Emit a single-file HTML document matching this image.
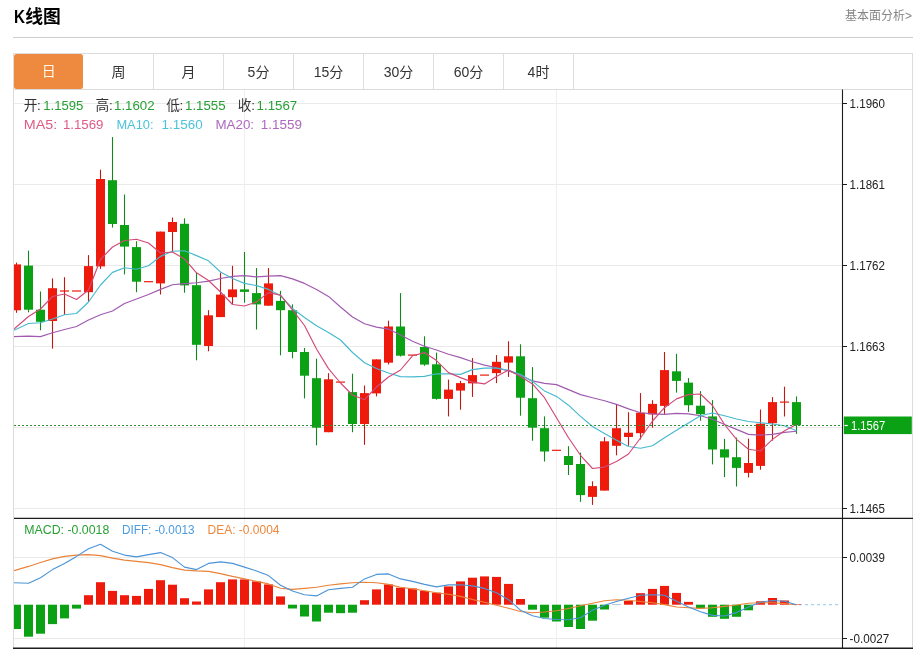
<!DOCTYPE html>
<html lang="zh"><head><meta charset="utf-8"><title>K线图</title>
<style>
html,body{margin:0;padding:0;background:#fff;}
body{width:918px;height:649px;position:relative;overflow:hidden;font-family:"Liberation Sans","Noto Sans CJK SC",sans-serif;color:#333;}
.g{display:inline-block;vertical-align:top;overflow:visible}
#title{position:absolute;left:14.3px;top:6px;overflow:visible;will-change:transform}
#title text{font-family:"Liberation Sans","Noto Sans CJK SC",sans-serif}
#more{will-change:transform;position:absolute;right:6.3px;top:9.1px;height:14px;font-size:12px;line-height:14px;color:#858585;white-space:nowrap;font-family:"Liberation Sans","Noto Sans CJK SC",sans-serif}
#hr{position:absolute;left:13px;top:37px;width:899.6px;height:1px;background:#cdcdcd}
#tabs{will-change:transform;position:absolute;left:13px;top:53px;width:898px;height:35px;border:1px solid #dcdcdc}
.tab{position:absolute;top:0;width:69px;height:35px;border-right:1px solid #dedede;text-align:center;font-size:14px;line-height:36.2px;color:#333;white-space:nowrap;font-family:"Liberation Sans","Noto Sans CJK SC",sans-serif}
.tab span{display:inline-block;vertical-align:top}
.tab.on{background:#ee8a3f;border-radius:2.5px;border-right:0;width:69.2px;left:0.2px!important;top:0.4px;height:34.6px;line-height:34.6px;color:#fff7e8}
#chart{position:absolute;left:0;top:0;will-change:transform}
#chart text{font-family:"Liberation Sans","Noto Sans CJK SC",sans-serif}
</style></head><body>
<svg id="title" width="60" height="24" viewBox="0 0 60 24" role="heading" aria-label="K线图"><text x="0" y="16.7" font-size="18.6" font-weight="bold" fill="#000" textLength="11" lengthAdjust="spacingAndGlyphs">K</text><text x="11.3" y="17.16" font-size="17.8" font-weight="bold" fill="#000">线</text><text x="29.1" y="17.16" font-size="17.8" font-weight="bold" fill="#000">图</text></svg>
<div id="more"><span>基本面分析</span>&gt;</div>
<div id="hr"></div>
<div id="tabs"><div style="left:0px" class="tab on"><span>日</span></div><div style="left:70px" class="tab"><span>周</span></div><div style="left:140px" class="tab"><span>月</span></div><div style="left:210px" class="tab"><span>5</span><span>分</span></div><div style="left:280px" class="tab"><span>15</span><span>分</span></div><div style="left:350px" class="tab"><span>30</span><span>分</span></div><div style="left:420px" class="tab"><span>60</span><span>分</span></div><div style="left:490px" class="tab"><span>4</span><span>时</span></div></div>
<svg id="chart" width="918" height="649" viewBox="0 0 918 649"><line x1="14" x2="842" y1="103.5" y2="103.5" stroke="#eaeaea"/><line x1="14" x2="842" y1="184.5" y2="184.5" stroke="#eaeaea"/><line x1="14" x2="842" y1="265.5" y2="265.5" stroke="#eaeaea"/><line x1="14" x2="842" y1="346.5" y2="346.5" stroke="#eaeaea"/><line x1="14" x2="842" y1="427.5" y2="427.5" stroke="#eaeaea"/><line x1="14" x2="842" y1="508.5" y2="508.5" stroke="#eaeaea"/><line x1="14" x2="842" y1="557.5" y2="557.5" stroke="#eaeaea"/><line x1="14" x2="842" y1="638.5" y2="638.5" stroke="#eaeaea"/><line x1="244.5" x2="244.5" y1="90" y2="648" stroke="#eeeef0"/><line x1="556.5" x2="556.5" y1="90" y2="648" stroke="#eeeef0"/><line x1="13.5" x2="13.5" y1="90" y2="649" stroke="#dcdcdc"/><line x1="912.5" x2="912.5" y1="90" y2="649" stroke="#dcdcdc"/><line x1="799" x2="839" y1="604.7" y2="604.7" stroke="#a9d3ea" stroke-width="1.2" stroke-dasharray="3 3"/><rect x="612" y="604.1" width="9" height="1" fill="#b9c6d2"/><defs><clipPath id="cp"><rect x="14" y="90" width="828" height="558"/></clipPath></defs><g clip-path="url(#cp)"><rect x="15.95" y="262.6" width="1.1" height="50.2" fill="#bd1b12"/><rect x="12" y="264.4" width="9" height="45.9" fill="#ee1b0d"/><rect x="27.95" y="250.6" width="1.1" height="61.7" fill="#14861c"/><rect x="24" y="265.6" width="9" height="44.1" fill="#0ba114"/><rect x="39.95" y="291.5" width="1.1" height="38.8" fill="#14861c"/><rect x="36" y="309.7" width="9" height="12.1" fill="#0ba114"/><rect x="51.95" y="278.4" width="1.1" height="70.2" fill="#bd1b12"/><rect x="48" y="288.2" width="9" height="32.8" fill="#ee1b0d"/><rect x="63.95" y="277.2" width="1.1" height="37.6" fill="#bd1b12"/><rect x="60" y="290.4" width="9" height="1.2" fill="#ee1b0d"/><rect x="72" y="290.4" width="9" height="1.2" fill="#ee1b0d"/><rect x="87.95" y="255.1" width="1.1" height="46.4" fill="#bd1b12"/><rect x="84" y="266.1" width="9" height="26.1" fill="#ee1b0d"/><rect x="99.95" y="169.7" width="1.1" height="99.2" fill="#bd1b12"/><rect x="96" y="179" width="9" height="87.4" fill="#ee1b0d"/><rect x="111.95" y="137.1" width="1.1" height="90.5" fill="#14861c"/><rect x="108" y="180.2" width="9" height="43.8" fill="#0ba114"/><rect x="123.95" y="194.5" width="1.1" height="79.9" fill="#14861c"/><rect x="120" y="225" width="9" height="21.6" fill="#0ba114"/><rect x="135.95" y="241.3" width="1.1" height="50.9" fill="#14861c"/><rect x="132" y="247.1" width="9" height="34.6" fill="#0ba114"/><rect x="144" y="281.1" width="9" height="1.2" fill="#ee1b0d"/><rect x="159.95" y="231.6" width="1.1" height="62.9" fill="#bd1b12"/><rect x="156" y="231.6" width="9" height="51.8" fill="#ee1b0d"/><rect x="171.95" y="217.5" width="1.1" height="33.9" fill="#bd1b12"/><rect x="168" y="222" width="9" height="10" fill="#ee1b0d"/><rect x="183.95" y="218.3" width="1.1" height="74.4" fill="#14861c"/><rect x="180" y="223.8" width="9" height="61.6" fill="#0ba114"/><rect x="195.95" y="272.9" width="1.1" height="87.4" fill="#14861c"/><rect x="192" y="285.2" width="9" height="59.6" fill="#0ba114"/><rect x="207.95" y="310.2" width="1.1" height="41.1" fill="#bd1b12"/><rect x="204" y="315.3" width="9" height="30.7" fill="#ee1b0d"/><rect x="219.95" y="272.6" width="1.1" height="44.5" fill="#bd1b12"/><rect x="216" y="294.6" width="9" height="22.5" fill="#ee1b0d"/><rect x="231.95" y="265.8" width="1.1" height="38.9" fill="#bd1b12"/><rect x="228" y="289.4" width="9" height="7.8" fill="#ee1b0d"/><rect x="243.95" y="252" width="1.1" height="50.7" fill="#14861c"/><rect x="240" y="289.4" width="9" height="2.5" fill="#0ba114"/><rect x="255.95" y="268.1" width="1.1" height="61.4" fill="#14861c"/><rect x="252" y="293.1" width="9" height="11.3" fill="#0ba114"/><rect x="267.95" y="268.1" width="1.1" height="37.6" fill="#bd1b12"/><rect x="264" y="283.4" width="9" height="22.3" fill="#ee1b0d"/><rect x="279.95" y="290.9" width="1.1" height="64.4" fill="#14861c"/><rect x="276" y="300.9" width="9" height="9.3" fill="#0ba114"/><rect x="291.95" y="304.4" width="1.1" height="53.9" fill="#14861c"/><rect x="288" y="310.2" width="9" height="41.8" fill="#0ba114"/><rect x="303.95" y="348" width="1.1" height="50.4" fill="#14861c"/><rect x="300" y="352" width="9" height="23.7" fill="#0ba114"/><rect x="315.95" y="358.7" width="1.1" height="86.6" fill="#14861c"/><rect x="312" y="378.2" width="9" height="49.5" fill="#0ba114"/><rect x="327.95" y="373.2" width="1.1" height="59" fill="#bd1b12"/><rect x="324" y="379.3" width="9" height="52.9" fill="#ee1b0d"/><rect x="336" y="381.5" width="9" height="1.2" fill="#ee1b0d"/><rect x="351.95" y="373.7" width="1.1" height="58.5" fill="#14861c"/><rect x="348" y="392.1" width="9" height="31.9" fill="#0ba114"/><rect x="363.95" y="385.5" width="1.1" height="59.3" fill="#bd1b12"/><rect x="360" y="393.1" width="9" height="30.9" fill="#ee1b0d"/><rect x="375.95" y="359.4" width="1.1" height="37" fill="#bd1b12"/><rect x="372" y="359.4" width="9" height="34" fill="#ee1b0d"/><rect x="387.95" y="320.7" width="1.1" height="43.7" fill="#bd1b12"/><rect x="384" y="326.5" width="9" height="36.2" fill="#ee1b0d"/><rect x="399.95" y="293.1" width="1.1" height="63.4" fill="#14861c"/><rect x="396" y="326.5" width="9" height="29.2" fill="#0ba114"/><rect x="408" y="354.5" width="9" height="1.2" fill="#ee1b0d"/><rect x="423.95" y="336.3" width="1.1" height="29.5" fill="#14861c"/><rect x="420" y="347" width="9" height="17.6" fill="#0ba114"/><rect x="435.95" y="352.6" width="1.1" height="47.1" fill="#14861c"/><rect x="432" y="364.3" width="9" height="34.6" fill="#0ba114"/><rect x="447.95" y="379.6" width="1.1" height="36.8" fill="#bd1b12"/><rect x="444" y="389.6" width="9" height="9.3" fill="#ee1b0d"/><rect x="459.95" y="380.9" width="1.1" height="28.8" fill="#bd1b12"/><rect x="456" y="383.1" width="9" height="7.5" fill="#ee1b0d"/><rect x="471.95" y="358.1" width="1.1" height="38.8" fill="#bd1b12"/><rect x="468" y="375.1" width="9" height="8.3" fill="#ee1b0d"/><rect x="480" y="374.5" width="9" height="1.2" fill="#ee1b0d"/><rect x="495.95" y="355.1" width="1.1" height="28" fill="#bd1b12"/><rect x="492" y="361.8" width="9" height="11.3" fill="#ee1b0d"/><rect x="507.95" y="341.3" width="1.1" height="35.6" fill="#bd1b12"/><rect x="504" y="356.3" width="9" height="6.3" fill="#ee1b0d"/><rect x="519.95" y="344.3" width="1.1" height="71.4" fill="#14861c"/><rect x="516" y="356.3" width="9" height="41.4" fill="#0ba114"/><rect x="531.95" y="367.1" width="1.1" height="73.6" fill="#14861c"/><rect x="528" y="398.2" width="9" height="29.5" fill="#0ba114"/><rect x="543.95" y="416.4" width="1.1" height="45.1" fill="#14861c"/><rect x="540" y="428.2" width="9" height="23.3" fill="#0ba114"/><rect x="552" y="449.7" width="9" height="1.2" fill="#ee1b0d"/><rect x="567.95" y="446.2" width="1.1" height="28.8" fill="#14861c"/><rect x="564" y="456" width="9" height="9" fill="#0ba114"/><rect x="579.95" y="452.6" width="1.1" height="49.2" fill="#14861c"/><rect x="576" y="464" width="9" height="31.1" fill="#0ba114"/><rect x="591.95" y="481.3" width="1.1" height="23.6" fill="#bd1b12"/><rect x="588" y="486.1" width="9" height="10.8" fill="#ee1b0d"/><rect x="603.95" y="437.2" width="1.1" height="53.4" fill="#bd1b12"/><rect x="600" y="441.3" width="9" height="49.3" fill="#ee1b0d"/><rect x="615.95" y="404.7" width="1.1" height="50.6" fill="#bd1b12"/><rect x="612" y="428.2" width="9" height="17.6" fill="#ee1b0d"/><rect x="627.95" y="412.2" width="1.1" height="33.6" fill="#bd1b12"/><rect x="624" y="432.7" width="9" height="4.3" fill="#ee1b0d"/><rect x="639.95" y="393.1" width="1.1" height="46.4" fill="#bd1b12"/><rect x="636" y="412.7" width="9" height="20.5" fill="#ee1b0d"/><rect x="651.95" y="400.2" width="1.1" height="27.5" fill="#bd1b12"/><rect x="648" y="403.9" width="9" height="10.5" fill="#ee1b0d"/><rect x="663.95" y="352" width="1.1" height="61.9" fill="#bd1b12"/><rect x="660" y="370.1" width="9" height="35.8" fill="#ee1b0d"/><rect x="675.95" y="353.8" width="1.1" height="38.8" fill="#14861c"/><rect x="672" y="371.3" width="9" height="9.6" fill="#0ba114"/><rect x="687.95" y="378.1" width="1.1" height="33.8" fill="#14861c"/><rect x="684" y="382.6" width="9" height="22.6" fill="#0ba114"/><rect x="699.95" y="391.1" width="1.1" height="29.6" fill="#14861c"/><rect x="696" y="405.7" width="9" height="8.5" fill="#0ba114"/><rect x="711.95" y="400.1" width="1.1" height="64.3" fill="#14861c"/><rect x="708" y="416.4" width="9" height="33.1" fill="#0ba114"/><rect x="723.95" y="438.9" width="1.1" height="38.2" fill="#14861c"/><rect x="720" y="449.3" width="9" height="8.2" fill="#0ba114"/><rect x="735.95" y="437.6" width="1.1" height="48.9" fill="#14861c"/><rect x="732" y="457.2" width="9" height="10.7" fill="#0ba114"/><rect x="747.95" y="438.6" width="1.1" height="38.8" fill="#bd1b12"/><rect x="744" y="463" width="9" height="9.9" fill="#ee1b0d"/><rect x="759.95" y="409.5" width="1.1" height="60.2" fill="#bd1b12"/><rect x="756" y="423.7" width="9" height="42.2" fill="#ee1b0d"/><rect x="771.95" y="397.1" width="1.1" height="43.5" fill="#bd1b12"/><rect x="768" y="402.1" width="9" height="21.1" fill="#ee1b0d"/><rect x="783.95" y="386.7" width="1.1" height="29.8" fill="#bd1b12"/><rect x="780" y="401.5" width="9" height="1.2" fill="#ee1b0d"/><rect x="795.95" y="396.4" width="1.1" height="37.5" fill="#14861c"/><rect x="792" y="402.1" width="9" height="23.1" fill="#0ba114"/><rect x="12" y="604.7" width="9" height="24.3" fill="#0ba114"/><rect x="24" y="604.7" width="9" height="32" fill="#0ba114"/><rect x="36" y="604.7" width="9" height="29" fill="#0ba114"/><rect x="48" y="604.7" width="9" height="19.4" fill="#0ba114"/><rect x="60" y="604.7" width="9" height="13.7" fill="#0ba114"/><rect x="72" y="604.7" width="9" height="3.9" fill="#0ba114"/><rect x="84" y="595.2" width="9" height="9.5" fill="#ee1b0d"/><rect x="96" y="582.2" width="9" height="22.5" fill="#ee1b0d"/><rect x="108" y="590.9" width="9" height="13.8" fill="#ee1b0d"/><rect x="120" y="595.2" width="9" height="9.5" fill="#ee1b0d"/><rect x="132" y="595.9" width="9" height="8.8" fill="#ee1b0d"/><rect x="144" y="588.9" width="9" height="15.8" fill="#ee1b0d"/><rect x="156" y="580.2" width="9" height="24.5" fill="#ee1b0d"/><rect x="168" y="584.7" width="9" height="20" fill="#ee1b0d"/><rect x="180" y="598.2" width="9" height="6.5" fill="#ee1b0d"/><rect x="192" y="601.5" width="9" height="3.2" fill="#ee1b0d"/><rect x="204" y="589.4" width="9" height="15.3" fill="#ee1b0d"/><rect x="216" y="582.2" width="9" height="22.5" fill="#ee1b0d"/><rect x="228" y="579.4" width="9" height="25.3" fill="#ee1b0d"/><rect x="240" y="579.4" width="9" height="25.3" fill="#ee1b0d"/><rect x="252" y="581.4" width="9" height="23.3" fill="#ee1b0d"/><rect x="264" y="584.4" width="9" height="20.3" fill="#ee1b0d"/><rect x="276" y="596.4" width="9" height="8.3" fill="#ee1b0d"/><rect x="288" y="604.7" width="9" height="3.8" fill="#0ba114"/><rect x="300" y="604.7" width="9" height="11.8" fill="#0ba114"/><rect x="312" y="604.7" width="9" height="16.8" fill="#0ba114"/><rect x="324" y="604.7" width="9" height="8" fill="#0ba114"/><rect x="336" y="604.7" width="9" height="8.5" fill="#0ba114"/><rect x="348" y="604.7" width="9" height="8" fill="#0ba114"/><rect x="360" y="600.2" width="9" height="4.5" fill="#ee1b0d"/><rect x="372" y="589.4" width="9" height="15.3" fill="#ee1b0d"/><rect x="384" y="584.4" width="9" height="20.3" fill="#ee1b0d"/><rect x="396" y="587.7" width="9" height="17" fill="#ee1b0d"/><rect x="408" y="588.4" width="9" height="16.3" fill="#ee1b0d"/><rect x="420" y="590.9" width="9" height="13.8" fill="#ee1b0d"/><rect x="432" y="592.7" width="9" height="12" fill="#ee1b0d"/><rect x="444" y="586.4" width="9" height="18.3" fill="#ee1b0d"/><rect x="456" y="581.4" width="9" height="23.3" fill="#ee1b0d"/><rect x="468" y="577.7" width="9" height="27" fill="#ee1b0d"/><rect x="480" y="576.4" width="9" height="28.3" fill="#ee1b0d"/><rect x="492" y="576.9" width="9" height="27.8" fill="#ee1b0d"/><rect x="504" y="583.9" width="9" height="20.8" fill="#ee1b0d"/><rect x="516" y="599" width="9" height="5.7" fill="#ee1b0d"/><rect x="528" y="604.7" width="9" height="5" fill="#0ba114"/><rect x="540" y="604.7" width="9" height="13" fill="#0ba114"/><rect x="552" y="604.7" width="9" height="16.8" fill="#0ba114"/><rect x="564" y="604.7" width="9" height="22.3" fill="#0ba114"/><rect x="576" y="604.7" width="9" height="24.3" fill="#0ba114"/><rect x="588" y="604.7" width="9" height="16" fill="#0ba114"/><rect x="600" y="604.7" width="9" height="4.8" fill="#0ba114"/><rect x="624" y="601" width="9" height="3.7" fill="#ee1b0d"/><rect x="636" y="593.2" width="9" height="11.5" fill="#ee1b0d"/><rect x="648" y="588.9" width="9" height="15.8" fill="#ee1b0d"/><rect x="660" y="585.9" width="9" height="18.8" fill="#ee1b0d"/><rect x="672" y="592.9" width="9" height="11.8" fill="#ee1b0d"/><rect x="684" y="601.9" width="9" height="2.8" fill="#ee1b0d"/><rect x="696" y="604.7" width="9" height="3.7" fill="#0ba114"/><rect x="708" y="604.7" width="9" height="12.1" fill="#0ba114"/><rect x="720" y="604.7" width="9" height="14.1" fill="#0ba114"/><rect x="732" y="604.7" width="9" height="12.1" fill="#0ba114"/><rect x="744" y="604.7" width="9" height="5.6" fill="#0ba114"/><rect x="756" y="601.3" width="9" height="3.4" fill="#ee1b0d"/><rect x="768" y="598" width="9" height="6.7" fill="#ee1b0d"/><rect x="780" y="600.5" width="9" height="4.2" fill="#ee1b0d"/><rect x="792" y="604.2" width="9" height="0.5" fill="#ee1b0d"/><polyline fill="none" stroke="#a05ab0" stroke-width="1.15" stroke-linejoin="round" points="14,336.6 28.5,336.1 40.5,336.6 52.5,332.8 64.5,329.5 76.5,326.5 88.5,320 100.5,314.8 112.5,311 124.5,303.5 136.5,299 148.5,294.5 160.5,289.4 172.5,284.7 184.5,283.6 196.5,282.7 208.5,281.1 220.5,278.5 232.5,276.4 244.5,275.6 256.5,276.9 268.5,276.1 280.5,275.6 292.5,278.9 304.5,283.4 316.5,289.4 328.5,296.4 340.5,307 352.5,317 364.5,323.8 376.5,327.1 388.5,329.1 400.5,335 412.5,341.3 424.5,346.3 436.5,350 448.5,354.3 460.5,357.6 472.5,361.8 484.5,365.1 496.5,367.8 508.5,371 520.5,375.3 532.5,380.9 544.5,383.4 556.5,384.6 568.5,389.6 580.5,394.6 592.5,397.7 604.5,400.7 616.5,404.4 628.5,408.9 640.5,412.7 652.5,413.9 664.5,414.4 676.5,413.4 688.5,413.9 700.5,415.8 712.5,419.3 724.5,424.5 736.5,429.4 748.5,434.4 760.5,435.1 772.5,434.4 784.5,432.4 796.5,431.2"/><polyline fill="none" stroke="#46b9cf" stroke-width="1.15" stroke-linejoin="round" points="14,330.3 28.5,323.5 40.5,322.8 52.5,319 64.5,314.8 76.5,313.5 88.5,302 100.5,285 112.5,272.4 124.5,267.7 136.5,269.2 148.5,265.8 160.5,256.4 172.5,251.2 184.5,250.8 196.5,255.6 208.5,260.8 220.5,272 232.5,278.5 244.5,283.4 256.5,285.6 268.5,289.4 280.5,295.6 292.5,308.5 304.5,317.5 316.5,325.8 328.5,332.4 340.5,340 352.5,352.5 364.5,362.7 376.5,368.5 388.5,373 400.5,376.6 412.5,376.9 424.5,376.4 436.5,373.8 448.5,373.8 460.5,374.4 472.5,369.6 484.5,368.1 496.5,368.1 508.5,370.3 520.5,374.6 532.5,381.4 544.5,390.9 556.5,396.4 568.5,405.2 580.5,416.4 592.5,426.5 604.5,433.5 616.5,440.2 628.5,446.5 640.5,448.3 652.5,445.8 664.5,437.7 676.5,430.2 688.5,422.9 700.5,415.8 712.5,413 724.5,415.8 736.5,419 748.5,421.5 760.5,422.7 772.5,424 784.5,425.7 796.5,430.7"/><polyline fill="none" stroke="#d24a77" stroke-width="1.15" stroke-linejoin="round" points="14,329 28.5,316.5 40.5,309 52.5,296.5 64.5,294 76.5,299.5 88.5,290 100.5,259.5 112.5,247 124.5,240.5 136.5,239.3 148.5,243 160.5,253 172.5,252 184.5,259 196.5,272.8 208.5,280.5 220.5,292 232.5,304.5 244.5,306 256.5,301.9 268.5,292.6 280.5,295.1 292.5,309.8 304.5,325.5 316.5,349 328.5,368.6 340.5,383 352.5,395 364.5,399.7 376.5,387 388.5,377 400.5,370 412.5,355.8 424.5,352.6 436.5,360.6 448.5,372.6 460.5,377.6 472.5,382.1 484.5,383.9 496.5,376.4 508.5,370 520.5,376.4 532.5,383.9 544.5,397.7 556.5,417.7 568.5,437.7 580.5,455.3 592.5,468.5 604.5,467.1 616.5,461.5 628.5,454 640.5,438 652.5,421 664.5,407.7 676.5,398.9 688.5,394.6 700.5,394 712.5,405.5 724.5,424.5 736.5,439.4 748.5,449.3 760.5,451 772.5,439.4 784.5,430.7 796.5,424.5"/><polyline fill="none" stroke="#ea8238" stroke-width="1.1" stroke-linejoin="round" points="14,570.6 28.5,566.4 40.5,562.6 52.5,558.9 64.5,556.4 76.5,555.1 88.5,554.6 100.5,555.6 112.5,558.1 124.5,560.1 136.5,561.4 148.5,562.6 160.5,564.6 172.5,567.6 184.5,570.1 196.5,570.9 208.5,571.4 220.5,573.6 232.5,576.4 244.5,578.9 256.5,581.4 268.5,583.9 280.5,588.2 292.5,589.4 304.5,588.4 316.5,587.2 328.5,585.2 340.5,583.9 352.5,582.7 364.5,582.2 376.5,582.7 388.5,584.4 400.5,587.2 412.5,588.9 424.5,590.7 436.5,592.7 448.5,594.2 460.5,596.4 472.5,599.5 484.5,602.2 496.5,605.2 508.5,608.2 520.5,611.5 532.5,612.7 544.5,612 556.5,610.7 568.5,608.5 580.5,605.7 592.5,603.2 604.5,600.7 616.5,599.7 628.5,600.2 640.5,601.5 652.5,602.7 664.5,604.6 676.5,607 688.5,607.8 700.5,608.4 712.5,607.8 724.5,606.4 736.5,605 748.5,603.3 760.5,602.7 772.5,602.7 784.5,603.6 796.5,604.7"/><polyline fill="none" stroke="#4a94d8" stroke-width="1.1" stroke-linejoin="round" points="14,582.7 28.5,583.2 40.5,577.7 52.5,569.6 64.5,563.4 76.5,556.4 88.5,548.8 100.5,544.3 112.5,551.3 124.5,555.1 136.5,556.9 148.5,554.6 160.5,552.6 172.5,557.6 184.5,567.1 196.5,569.6 208.5,563.4 220.5,561.9 232.5,563.4 244.5,567.1 256.5,570.9 268.5,575.6 280.5,585.2 292.5,590.9 304.5,594.7 316.5,595.9 328.5,589.7 340.5,588.4 352.5,587.2 364.5,578.9 376.5,574.4 388.5,573.9 400.5,578.9 412.5,581.4 424.5,584.4 436.5,586.9 448.5,584.9 460.5,584.7 472.5,585.9 484.5,588.4 496.5,592.7 508.5,599.7 520.5,610.2 532.5,615.7 544.5,618.5 556.5,619.5 568.5,619.7 580.5,617.7 592.5,610.2 604.5,605.2 616.5,601.5 628.5,598.2 640.5,595.2 652.5,594.7 664.5,595.3 676.5,601.3 688.5,607 700.5,611.7 712.5,615.4 724.5,616 736.5,612.6 748.5,607 760.5,602.2 772.5,600.5 784.5,601.3 796.5,604.7"/></g><line x1="14" x2="843" y1="425.5" y2="425.5" stroke="#2f8f36" stroke-width="1" stroke-dasharray="2 2"/><line x1="842.5" x2="842.5" y1="89.5" y2="649" stroke="#1c1c1c" stroke-width="1.1"/><line x1="14" x2="913" y1="518.3" y2="518.3" stroke="#1c1c1c" stroke-width="1.2"/><line x1="13" x2="913" y1="648.3" y2="648.3" stroke="#1c1c1c" stroke-width="1.6"/><line x1="842.5" x2="847" y1="103.5" y2="103.5" stroke="#1c1c1c"/><text x="849.6" y="107.5" font-size="12.4" fill="#222" textLength="35.4" lengthAdjust="spacingAndGlyphs">1.1960</text><line x1="842.5" x2="847" y1="184.5" y2="184.5" stroke="#1c1c1c"/><text x="849.6" y="188.5" font-size="12.4" fill="#222" textLength="35.4" lengthAdjust="spacingAndGlyphs">1.1861</text><line x1="842.5" x2="847" y1="265.5" y2="265.5" stroke="#1c1c1c"/><text x="849.6" y="269.5" font-size="12.4" fill="#222" textLength="35.4" lengthAdjust="spacingAndGlyphs">1.1762</text><line x1="842.5" x2="847" y1="346.5" y2="346.5" stroke="#1c1c1c"/><text x="849.6" y="350.5" font-size="12.4" fill="#222" textLength="35.4" lengthAdjust="spacingAndGlyphs">1.1663</text><line x1="842.5" x2="847" y1="508.5" y2="508.5" stroke="#1c1c1c"/><text x="849.6" y="512.5" font-size="12.4" fill="#222" textLength="35.4" lengthAdjust="spacingAndGlyphs">1.1465</text><line x1="842.5" x2="847" y1="557.5" y2="557.5" stroke="#1c1c1c"/><text x="849.6" y="561.5" font-size="12.4" fill="#222" textLength="35.4" lengthAdjust="spacingAndGlyphs">0.0039</text><line x1="842.5" x2="847" y1="638.5" y2="638.5" stroke="#1c1c1c"/><text x="849.6" y="642.5" font-size="12.4" fill="#222" textLength="39.6" lengthAdjust="spacingAndGlyphs">-0.0027</text><rect x="843.8" y="416.5" width="68" height="17.6" fill="#0ba114"/><line x1="844.4" x2="847.8" y1="425.5" y2="425.5" stroke="#fff" stroke-width="1.2"/><text x="851" y="430" font-size="12.4" fill="#fff" textLength="34.2" lengthAdjust="spacingAndGlyphs">1.1567</text><text x="23.7" y="110.36" font-size="13.7" fill="#333333">开</text><text x="37" y="110.4" font-size="13.4" fill="#333333">:</text><text x="43.2" y="110.4" font-size="13.4" fill="#27a033" textLength="40.2" lengthAdjust="spacingAndGlyphs">1.1595</text><text x="95.5" y="110.36" font-size="13.7" fill="#333333">高</text><text x="109" y="110.4" font-size="13.4" fill="#333333">:</text><text x="114" y="110.4" font-size="13.4" fill="#27a033" textLength="40.6" lengthAdjust="spacingAndGlyphs">1.1602</text><text x="166.2" y="110.36" font-size="13.7" fill="#333333">低</text><text x="179.6" y="110.4" font-size="13.4" fill="#333333">:</text><text x="185" y="110.4" font-size="13.4" fill="#27a033" textLength="40.6" lengthAdjust="spacingAndGlyphs">1.1555</text><text x="237.8" y="110.36" font-size="13.7" fill="#333333">收</text><text x="251.2" y="110.4" font-size="13.4" fill="#333333">:</text><text x="256.6" y="110.4" font-size="13.4" fill="#27a033" textLength="40.6" lengthAdjust="spacingAndGlyphs">1.1567</text><text x="23.8" y="128.8" font-size="13.4" fill="#de5c86" textLength="33.4" lengthAdjust="spacingAndGlyphs">MA5:</text><text x="62.9" y="128.8" font-size="13.4" fill="#de5c86" textLength="40.6" lengthAdjust="spacingAndGlyphs">1.1569</text><text x="116.4" y="128.8" font-size="13.4" fill="#4cc3d9" textLength="37.2" lengthAdjust="spacingAndGlyphs">MA10:</text><text x="161.6" y="128.8" font-size="13.4" fill="#4cc3d9" textLength="41.2" lengthAdjust="spacingAndGlyphs">1.1560</text><text x="215.5" y="128.8" font-size="13.4" fill="#ae68c0" textLength="38.5" lengthAdjust="spacingAndGlyphs">MA20:</text><text x="260.7" y="128.8" font-size="13.4" fill="#ae68c0" textLength="41.2" lengthAdjust="spacingAndGlyphs">1.1559</text><text x="24.3" y="534.2" font-size="13.4" fill="#27a033" textLength="85" lengthAdjust="spacingAndGlyphs">MACD: -0.0018</text><text x="122" y="534.2" font-size="13.4" fill="#4a9be0" textLength="72.5" lengthAdjust="spacingAndGlyphs">DIFF: -0.0013</text><text x="207.5" y="534.2" font-size="13.4" fill="#f0873c" textLength="72" lengthAdjust="spacingAndGlyphs">DEA: -0.0004</text></svg>
</body></html>
